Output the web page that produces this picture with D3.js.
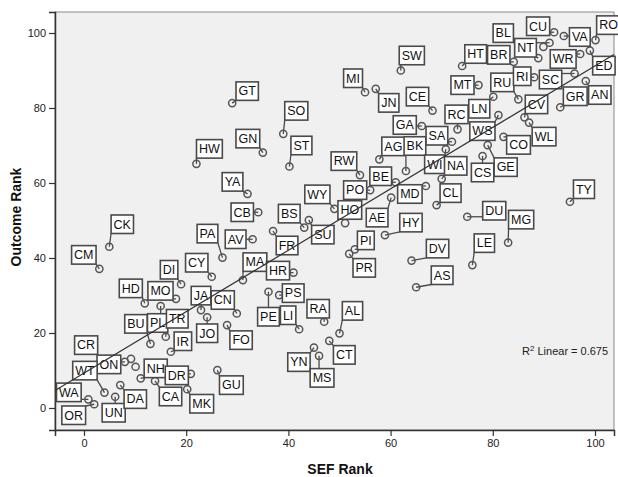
<!DOCTYPE html>
<html><head><meta charset="utf-8">
<script src="https://cdn.jsdelivr.net/npm/d3@7"></script>
<style>
body{margin:0;background:#fff;}
text{font-family:"Liberation Sans",Arial,sans-serif;}
</style></head>
<body><svg id="c" width="618" height="477"></svg>
<script>
// ---- data ----
const codes = ["GT","HW","SO","GN","ST","MI","JN","SW","GA","AG","BK","CE","RW","BE","PO","MD","WI","NA","CL","SA","RC",
"CU","VA","RO","ED","WR","NT","BL","","HT","BR","MT","RU","RI","SC","AN","GR","LN","WS","CV","WL","CO","GE","CS",
"DU","MG","TY","LE","DV","AS","HY","AE","HO","","WY","SU","BS","FR","PI","PR","YA","CB","AV","PA","MA","HR","PS","PE",
"LI","RA","AL","CT","YN","MS","GU","FO","JO","CN","JA","CY","DI","MO","HD","PL","BU","TR","IR","CK","CM","CR","ON","","",
"WT","WA","OR","UN","DA","NH","DR","CA","MK"];
const sefRank = [29.0,22.0,39.0,35.0,40.2,55.0,57.1,62.0,66.1,57.8,63.0,68.2,54.0,61.0,56.0,66.9,70.8,70.0,69.0,72.0,73.1,
92.0,93.9,100.1,99.0,97.1,91.1,88.9,89.9,74.0,84.1,77.2,85.0,88.1,96.0,98.2,93.2,80.1,81.1,86.2,87.1,82.1,79.0,78.0,
75.0,83.0,95.1,76.0,64.1,65.0,58.9,60.1,52.8,51.1,49.0,44.0,43.1,37.0,53.0,51.9,32.0,34.1,33.0,27.1,31.1,41.0,38.2,36.1,
42.1,47.0,50.0,48.0,45.0,46.0,26.1,28.0,24.1,29.9,22.9,25.0,19.0,18.0,11.9,15.0,13.0,16.0,17.0,4.95,3.0,1.2,8.0,9.2,10.1,
4.0,0.85,2.0,6.1,7.1,11.1,20.9,13.9,20.2];
const outcomeRank = [81.3,65.1,73.1,68.1,64.4,84.2,85.1,90.0,75.2,66.3,63.2,79.3,62.1,60.2,58.1,59.2,69.0,61.1,54.1,71.0,74.3,
100.2,99.2,98.1,95.3,94.4,97.4,93.3,96.3,91.2,92.3,86.1,82.3,88.2,89.2,87.2,80.2,83.0,78.1,77.5,76.1,72.3,70.1,67.2,
51.0,44.1,55.0,38.1,39.3,32.2,46.1,56.1,52.8,49.3,53.1,50.1,48.1,47.2,42.3,41.1,57.1,52.2,45.0,40.1,34.1,36.1,30.1,31.0,
21.0,23.0,19.9,17.9,16.1,13.9,10.1,22.1,24.2,25.2,26.1,35.0,33.0,29.1,27.9,27.2,17.1,19.0,15.0,43.0,37.1,15.7,12.3,13.1,11.0,
4.1,2.3,1.0,3.0,6.1,7.9,9.1,7.2,5.0];
const xTicks = [0,20,40,60,80,100];
const yTicks = [0,20,40,60,80,100];
const r2Text = "0.675";
// ---- label layout (pixel offsets of each label box from its point) ----
const labelDx = [15,13,13,-15,12,-12,13,11,-17,14,9,-15,-16,-15,-15,-16,-11,14,14,-15,-1,
-16,16,13,14,-17,-24,-35,0,13.5,-15,-16,-16,-12,-24,14,15,-14,-16,12,15,15,18,0,
27,13,14,12,26,26,26,-14,-4,0,-17,14,-15,14,11,15,-15,-16,-17,-15,12,-15.5,14,0,
-11,-6,13,15,-15,3,14,14,0,-14,0,-15,-12,-15.5,-14,-3,-14.5,11.5,12,13,-15.5,-4,-16,0,0,
-19.5,-19.5,-20.5,-1.5,15,15,-14,15.5,14.5];
const labelDy = [-12,-15,-23,-14,-21,-14,14,-15,-1,-13,-25,-14,-14,-6,0,8,15,-13,-12,-6,-15,
-6,1,-15,15,5,5,-25,0,-12,-7,0,-17,-1,6,14,-11,12,16,-13,14,8,22,16.5,
-6,-23,-12.5,-22,-12,-12,-12.5,20,0,0,-14.5,14.5,-14,14.5,-9,14,-12,0,0,-24,-18,-2,-2,25,
-14,-13,-22.5,14,14.5,22,15,15,16,-13.5,-14.5,-14,-14.5,-8,-15,17,-20,-18,-10.5,-22.5,-14,-4,2.5,0,0,
-22,-7,11,16,14,-10,1.5,15.5,14.5];

const pts = codes.map((c,i)=>({code:c,x:sefRank[i],y:outcomeRank[i],dx:labelDx[i],dy:labelDy[i]}));

const svg = d3.select("#c");
const L=55,R=614,T=12,B=430;
const x = d3.scaleLinear().domain([-5.675,103.72]).range([L,R]);
const y = d3.scaleLinear().domain([-5.87,105.6]).range([B,T]);

svg.append("rect").attr("x",L).attr("y",T).attr("width",R-L).attr("height",B-T)
  .attr("fill","#f0f0f0").attr("stroke","#8a8a8a").attr("stroke-width",1);

// axes
const gx = svg.append("g").attr("transform",`translate(0,${B})`)
  .call(d3.axisBottom(x).tickValues(xTicks).tickSize(6).tickPadding(3).tickFormat(d3.format("d")));
const gy = svg.append("g").attr("transform",`translate(${L},0)`)
  .call(d3.axisLeft(y).tickValues(yTicks).tickSize(6).tickPadding(3).tickFormat(d3.format("d")));
[gx,gy].forEach(g=>{
  g.select(".domain").attr("stroke","#333").attr("stroke-width",1.5);
  g.selectAll(".tick line").attr("stroke","#333").attr("stroke-width",1.2);
  g.selectAll(".tick text").attr("fill","#222").attr("font-size",11).attr("font-family","Liberation Sans, Arial, sans-serif");
});

svg.append("text").attr("x",340).attr("y",474).attr("text-anchor","middle")
  .attr("font-size",14).attr("font-weight","bold").attr("fill","#111").text("SEF  Rank");
svg.append("text").attr("transform","translate(21,217) rotate(-90)").attr("text-anchor","middle")
  .attr("font-size",14).attr("font-weight","bold").attr("fill","#111").text("Outcome Rank");

// leaders + points
const gL = svg.append("g");
const gP = svg.append("g");
const gB = svg.append("g");
const boxH = 18.5;
pts.forEach(p=>{
  const px=x(p.x), py=y(p.y);
  if(p.code){
    const cx=px+p.dx, cy=py+p.dy;
    const t = gB.append("text").attr("x",cx).attr("y",cy+4.3).attr("text-anchor","middle")
      .attr("font-size",12.5).attr("fill","#111").text(p.code);
    const w = t.node().getComputedTextLength()+5;
    const x0=cx-w/2, y0=cy-boxH/2;
    gB.insert("rect","text").attr("x",x0).attr("y",y0).attr("width",w).attr("height",boxH)
      .attr("fill","#fff").attr("stroke","#4a4a4a").attr("stroke-width",1.6);
    const ex=Math.max(x0,Math.min(x0+w,px)), ey=Math.max(y0,Math.min(y0+boxH,py));
    gL.append("line").attr("x1",ex).attr("y1",ey).attr("x2",px).attr("y2",py)
      .attr("stroke","#4a4a4a").attr("stroke-width",1.3);
  }
  gP.append("circle").attr("cx",px).attr("cy",py).attr("r",3.6)
    .attr("fill","none").attr("stroke","#555").attr("stroke-width",1.5);
});

// linear fit
const mx=d3.mean(pts,d=>d.x), my=d3.mean(pts,d=>d.y);
const sxy=d3.sum(pts,d=>(d.x-mx)*(d.y-my)), sxx=d3.sum(pts,d=>(d.x-mx)**2);
const b=sxy/sxx, a=my-b*mx;
const [d0,d1]=x.domain();
svg.append("line").attr("x1",x(d0)).attr("y1",y(a+b*d0)).attr("x2",x(d1)).attr("y2",y(a+b*d1))
  .attr("stroke","#333").attr("stroke-width",1.2);

const rt = svg.append("text").attr("x",522).attr("y",355).attr("font-size",11).attr("fill","#222");
rt.append("tspan").text("R");
rt.append("tspan").attr("font-size",8).attr("dy",-4).text("2");
rt.append("tspan").attr("dy",4).text(" Linear = "+r2Text);
</script></body></html>
